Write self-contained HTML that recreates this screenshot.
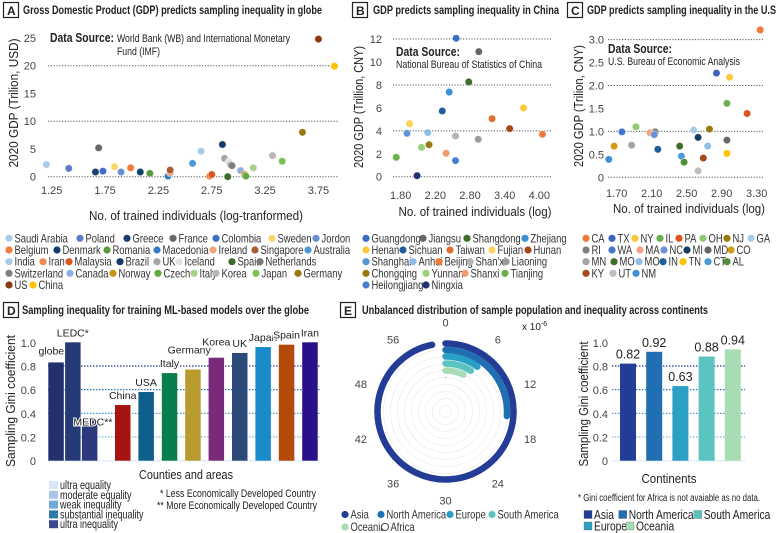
<!DOCTYPE html>
<html><head><meta charset="utf-8">
<style>
html,body{margin:0;padding:0;background:#fff;}
svg{display:block;}
text{font-family:"Liberation Sans",sans-serif;fill:#222;}
.t{font-weight:bold;font-size:12px;}
.tick{font-size:11px;fill:#444;}
.lg{font-size:11.5px;fill:#333;}
</style></head>
<body>
<svg id="fig" width="777" height="533" viewBox="0 0 777 533" xmlns="http://www.w3.org/2000/svg">
  <g>
    <rect x="3.5" y="2.5" width="15" height="15" fill="#fff" stroke="#222" stroke-width="1.2"/>
    <text x="7" y="15" class="t" font-size="13">A</text>
    <text x="23" y="14" class="t" textLength="299" lengthAdjust="spacingAndGlyphs">Gross Domestic Product (GDP) predicts sampling inequality in globe</text>
  </g>
  <g>
    <rect x="352.5" y="2.5" width="15" height="15" fill="#fff" stroke="#222" stroke-width="1.2"/>
    <text x="356" y="15" class="t" font-size="13">B</text>
    <text x="373" y="14" class="t" textLength="186" lengthAdjust="spacingAndGlyphs">GDP predicts sampling inequality in China</text>
  </g>
  <g>
    <rect x="567.5" y="2.5" width="15" height="15" fill="#fff" stroke="#222" stroke-width="1.2"/>
    <text x="571" y="15" class="t" font-size="13">C</text>
    <text x="587" y="14" class="t" textLength="189" lengthAdjust="spacingAndGlyphs">GDP predicts sampling inequality in the U.S</text>
  </g>
  <g>
    <rect x="3.5" y="302.5" width="15" height="15" fill="#fff" stroke="#222" stroke-width="1.2"/>
    <text x="7" y="315" class="t" font-size="13">D</text>
    <text x="22" y="314" class="t" textLength="287" lengthAdjust="spacingAndGlyphs">Sampling inequality for training ML-based models over the globe</text>
  </g>
  <g>
    <rect x="340.5" y="302.5" width="15" height="15" fill="#fff" stroke="#222" stroke-width="1.2"/>
    <text x="344" y="315" class="t" font-size="13">E</text>
    <text x="362" y="314" class="t" textLength="346" lengthAdjust="spacingAndGlyphs">Unbalanced distribution of sample population and inequality across continents</text>
  </g>

  <g>
    <text x="50" y="42" font-size="13" font-weight="bold" textLength="64" lengthAdjust="spacingAndGlyphs">Data Source:</text>
    <text x="117" y="42" font-size="11" fill="#444" textLength="173" lengthAdjust="spacingAndGlyphs">World Bank (WB) and International Monetary</text>
    <text x="117" y="55" font-size="11" fill="#444" textLength="43" lengthAdjust="spacingAndGlyphs">Fund (IMF)</text>
  </g>
  <g>
    <text x="396" y="56" font-size="13" font-weight="bold" textLength="64" lengthAdjust="spacingAndGlyphs">Data Source:</text>
    <text x="396" y="68" font-size="11" fill="#444" textLength="146" lengthAdjust="spacingAndGlyphs">National Bureau of Statistics of China</text>
  </g>
  <g>
    <text x="608" y="53" font-size="13" font-weight="bold" textLength="64" lengthAdjust="spacingAndGlyphs">Data Source:</text>
    <text x="608" y="65" font-size="11" fill="#444" textLength="132" lengthAdjust="spacingAndGlyphs">U.S. Bureau of Economic Analysis</text>
  </g>

  <text transform="translate(18,103) rotate(-90)" text-anchor="middle" font-size="13" textLength="129" lengthAdjust="spacingAndGlyphs">2020 GDP (Trilion, USD)</text>
  <text x="196" y="220" text-anchor="middle" font-size="13" textLength="214" lengthAdjust="spacingAndGlyphs">No. of trained individuals (log-tranformed)</text>
  <text transform="translate(363,107) rotate(-90)" text-anchor="middle" font-size="13" textLength="122" lengthAdjust="spacingAndGlyphs">2020 GDP (Trillion, CNY)</text>
  <text x="475" y="216" text-anchor="middle" font-size="13" textLength="153" lengthAdjust="spacingAndGlyphs">No. of trained individuals (log)</text>
  <text transform="translate(583,106) rotate(-90)" text-anchor="middle" font-size="13" textLength="122" lengthAdjust="spacingAndGlyphs">2020 GDP (Trilion, CNY)</text>
  <text x="689" y="213" text-anchor="middle" font-size="13" textLength="152" lengthAdjust="spacingAndGlyphs">No. of trained individuals (log)</text>
  <text transform="translate(15,401) rotate(-90)" text-anchor="middle" font-size="13" textLength="132" lengthAdjust="spacingAndGlyphs">Sampling Gini coefficient</text>
  <text x="186" y="479" text-anchor="middle" font-size="13" textLength="94" lengthAdjust="spacingAndGlyphs">Counties and areas</text>
  <text transform="translate(588,404) rotate(-90)" text-anchor="middle" font-size="13" textLength="125" lengthAdjust="spacingAndGlyphs">Sampling Gini coefficient</text>
  <text x="669" y="483" text-anchor="middle" font-size="13" textLength="55" lengthAdjust="spacingAndGlyphs">Continents</text>

  <text x="160" y="497" font-size="11" fill="#333" textLength="156" lengthAdjust="spacingAndGlyphs">* Less Economically Developed Country</text>
  <text x="157" y="509" font-size="11" fill="#333" textLength="160" lengthAdjust="spacingAndGlyphs">** More Economically Developed Country</text>
  <text x="578" y="501" font-size="10" fill="#333" textLength="182" lengthAdjust="spacingAndGlyphs">* Gini coefficient for Africa is not avaiable as no data.</text>
  <text x="522" y="330" font-size="10" fill="#333">x 10<tspan font-size="7" dy="-4">-6</tspan></text>

  <g id="layer"></g>
</svg>
<script>
// ---------- Panel A data ----------
const aCountries = ["Saudi Arabia","Poland","Greece","France","Colombia","Sweden","Jordon","Belgium","Denmark","Romania","Macedonia","Ireland","Singapore","Australia","India","Iran","Malaysia","Brazil","UK","Iceland","Spain","Netherlands","Switzerland","Canada","Norway","Czech","Italy","Korea","Japan","Germany","US","China"];
const aLogN = [1.20,1.41,1.66,1.69,1.73,1.84,1.90,1.99,2.08,2.17,2.34,2.36,2.36,2.57,2.65,2.73,2.75,2.85,2.87,2.91,2.90,2.93,2.94,3.02,3.06,3.07,3.14,3.32,3.41,3.60,3.75,3.90];
const aGDP = [2.2,1.5,0.85,5.2,1.0,1.8,0.85,1.6,0.85,0.6,0.1,0.7,1.2,2.4,4.6,0.1,0.4,5.8,3.3,2.7,0.0,2.1,2.0,1.1,0.4,0.1,1.6,3.8,2.8,8.0,24.8,19.9];
const aColors = ["#a9cce8","#5b7fc0","#1f3d6e","#686868","#3d6fc9","#fbd46a","#6a8fd0","#f07b3a","#0f3f6b","#5a9a3b","#2f7fc8","#f2a47c","#a85e35","#4c9ad8","#a8cbe8","#ee8a52","#d9541e","#173b66","#a5a5a5","#e3e3e3","#3e6e2a","#7a7a7a","#7f7f7f","#8eb0e0","#c9920d","#64a843","#a8d08d","#b7b7b7","#7cc05a","#9a7a10","#8b3a10","#ffc000"];
const aXTicks = [1.25,1.75,2.25,2.75,3.25,3.75];
const aYTicks = [0,5,10,15,20,25];
const aGrid = [0,10,20];

// ---------- Panel B data ----------
const bProvinces = ["Guangdong","Jiangsu","Shangdong","Zhejiang","Henan","Sichuan","Taiwan","Fujian","Hunan","Shanghai","Anhui","Beijing","Shan'xi","Liaoning","Chongqing","Yunnan","Shanxi","Tianjing","Heilongjiang","Ningxia"];
const bLogN = [2.68,3.04,2.88,2.57,3.75,2.46,3.25,1.94,3.53,1.90,2.23,4.05,2.67,3.03,2.25,2.13,2.52,1.73,2.67,2.06];
const bGDP = [12.07,10.9,8.26,7.38,6.0,5.73,5.06,4.62,4.19,3.78,3.84,3.70,3.55,3.26,2.79,2.56,2.04,1.69,1.40,0.09];
const bColors = ["#3b6fc6","#666666","#3e6e2a","#3d8fd6","#fbc93a","#1f5f99","#e0702d","#fcd257","#a6481a","#5b95d4","#8fbde8","#ef7a3a","#b4b4b4","#9a9a9a","#9a7a10","#9ccf7c","#f39c6b","#6ab04c","#4a7fcf","#1f3470"];
const bXTicks = [1.80,2.15,2.50,2.85,3.20];
const bXTickLabels = ["1.80","2.20","2.80","3.40","4.00"];
const bYTicks = [0,2,4,6,8,10,12];
const bGrid = [0,4,8,12];

// ---------- Panel C data ----------
const cStates = ["CA","TX","NY","IL","PA","OH","NJ","GA","RI","WA","MA","NC","MI","MD","CO","MN","MO","MO","IN","TN","CT","AL","KY","UT","NM"];
const cLogN = [3.34,2.84,2.99,2.96,3.19,1.92,2.76,2.58,2.14,1.76,2.08,2.13,2.63,2.96,1.67,1.87,2.42,2.74,2.17,2.96,2.44,2.47,2.69,2.63,1.61];
const cGDP = [3.21,2.27,2.18,1.61,1.39,1.10,1.05,1.03,0.99,0.99,0.97,0.93,0.87,0.81,0.68,0.70,0.68,0.68,0.61,0.52,0.46,0.33,0.42,0.14,0.39];
const cColors = ["#ef7a3a","#3b62c0","#fcc83a","#6ab04c","#d9541e","#8fcc70","#9a7a10","#a8cbe8","#7f7f7f","#4477cc","#f2a47c","#6d8fd6","#173b66","#666666","#d39a12","#a5a5a5","#3e6e2a","#8fbde8","#1f5f99","#ffc000","#4c9ad8","#4f8f37","#a6481a","#bdbdbd","#3d8fd6"];
const cXTicks = [1.70,2.10,2.50,2.90,3.30];
const cYTicks = [0,0.5,1.0,1.5,2.0,2.5,3.0];
const cGrid = [0,1,2,3];

// ---------- Panel D data ----------
const dAreas = ["globe","LEDC*","MEDC**","China","USA","Italy","Germany","Korea","UK","Japan","Spain","Iran"];
const dGini = [0.83,1.00,0.34,0.47,0.58,0.74,0.77,0.87,0.91,0.96,0.98,1.00];
const dColors = ["#24306e","#263a7a","#2c3a7d","#a5140f","#0e5f8b","#0a7d4f","#b99a2d","#7a2a78","#2c4a78","#1a8ac8","#b34a0a","#2a0f8a"];
const dYTicks = [0,0.2,0.4,0.6,0.8,1.0];
const dLevels = ["ultra  equality","moderate  equality","weak  inequality","substantial  inequality","ultra inequality"];
const dLevelColors = ["#d6e6f7","#a8c6ea","#6fa9d8","#2d79a8","#3b4a8e"];

// ---------- Panel E data ----------
const eContinents = ["Asia","North America","Europe","South America","Oceania","Africa"];
const eShare = [58.1,15.7,5.9,5.3,4.3,0.1];
const eGiniContinents = ["Asia","North America","Europe","South America","Oceania"];
const eGini = [0.82,0.92,0.63,0.88,0.94];
const eGiniLabels = ["0.82","0.92","0.63","0.88","0.94"];
const eColors = ["#233d96","#1f6fb2","#2aa0c4","#5cc4c0","#a8dcb4","#ffffff"];
const ePolarTicks = [0,6,12,18,24,30,36,42,48,54];
const ePolarTickLabels = ["0","6","12","18","24","30","36","42","48","56"];

const NS = "http://www.w3.org/2000/svg";
const layer = document.getElementById("layer");
function mk(tag, attrs, parent){
  const e = document.createElementNS(NS, tag);
  for (const k in attrs) e.setAttribute(k, attrs[k]);
  (parent||layer).appendChild(e);
  return e;
}
function txt(s, attrs, parent){ const e = mk("text", attrs, parent); e.textContent = s; return e; }

const axA = v => 51.7 + (v-1.25)*106.7, ayA = v => 176.7 - v*5.55;
const axB = v => 400.7 + (v-1.80)*99.0, ayB = v => 176.7 - v*11.47;
const axBpt = v => 400.7 + (v-1.80)*63.0;
const axC = v => 616.7 + (v-1.70)*87.5, ayC = v => 177.3 - v*45.9;
const ayD = v => 460.7 - v*118.4;

function scatterPanel(tag, xTicks, xLabels, yTicks, grid, fx, fy, gx0, gx1, ylabX, xlabY, yfmt){
  const g = mk("g", {});
  
  
  grid.forEach(v=>{
    const l = mk("line",{x1:gx0,x2:gx1,y1:fy(v),y2:fy(v),stroke:"#555","stroke-width":1,"stroke-dasharray":"1.2 1.6"},g);
    
    
  });
  yTicks.forEach(v=>{
    const t = txt(yfmt(v),{x:ylabX,y:fy(v)+4,"text-anchor":"end",class:"tick","font-size":"12"},g);
    
    
  });
  xTicks.forEach((v,i)=>{
    const t = txt(xLabels[i],{x:fx(v),y:xlabY,"text-anchor":"middle",class:"tick","font-size":"12"},g);
    
    
  });
  return g;
}
function points(tag, g, names, xs, ys, cols, px, py){
  names.forEach((n,i)=>{
    const c = mk("circle",{cx:px(xs[i]),cy:py(ys[i]),r:3.7,fill:cols[i],stroke:"rgba(255,255,255,0.7)","stroke-width":0.6},g);
    
    
  });
}
function legend(tag, names, cols, layout, rowY, fs){
  const g = mk("g",{});
  
  
  let k = 0;
  layout.forEach((row,r)=>{
    row.forEach(x=>{
      if (k >= names.length) return;
      const it = mk("g",{},g);
      
      
      mk("circle",{cx:x,cy:rowY[r],r:3.6,fill:cols[k],stroke:cols[k]==="#ffffff"?"#222":"none","stroke-width":0.8},it);
      txt(names[k],{transform:`translate(${x+5.5},${rowY[r]+4}) scale(0.82,1)`,class:"lg","font-size":fs||"11.5"},it);
      k++;
    });
  });
}

// Panel A
const gA = scatterPanel("a", aXTicks, aXTicks.map(v=>v.toFixed(2)), aYTicks, aGrid, axA, ayA, 48, 338, 36, 194, v=>String(v));
points("a", gA, aCountries, aLogN, aGDP, aColors, axA, ayA);
legend("a", aCountries, aColors, [
  [9,80,127,173,216,272,316],
  [9,57,107,157,213,255,308],
  [9,43,69,120,157,179,232,260],
  [9,70,113,158,194,216,256,298],
  [9,33]], [238.3,250,261.7,273.3,285]);

// Panel B
const gB = scatterPanel("b", bXTicks, bXTickLabels, bYTicks, bGrid, axB, ayB, 393, 552, 382, 199, v=>String(v));
points("b", gB, bProvinces, bLogN, bGDP, bColors, axBpt, ayB);
legend("b", bProvinces, bColors, [
  [366,423,467,525],
  [366,403,450,492,528],
  [366,413,439,470,506],
  [366,426,465,505],
  [366,426]], [238.3,250,261.7,273.3,285]);

// Panel C
const gC = scatterPanel("c", cXTicks, cXTicks.map(v=>v.toFixed(2)), cYTicks, cGrid, axC, ayC, 608, 763, 604, 197, v=>v===0?"0":v.toFixed(1));
points("c", gC, cStates, cLogN, cGDP, cColors, axC, ayC);
legend("c", cStates, cColors, [
  [586,612,635,660,679,703,727,751],
  [586,612,640,664,687,708,731],
  [586,614,639,663,683,708,727],
  [586,613,636]], [238.3,250,261.7,273.3]);

// Panel D
const gD = mk("g",{});


const dGridCols = {0.2:"#7fb6e0",0.4:"#4f95d0",0.6:"#2f78c0",0.8:"#27368a"};
[0.2,0.4,0.6,0.8].forEach(v=>{
  const l = mk("line",{x1:48,x2:320,y1:ayD(v),y2:ayD(v),stroke:dGridCols[v],"stroke-width":1.2,"stroke-dasharray":"1.5 1.5"},gD);
  
  
});
mk("line",{x1:48,x2:320,y1:ayD(0),y2:ayD(0),stroke:"#d6e6f7","stroke-width":1.5,"stroke-dasharray":"2 1"},gD);
dYTicks.forEach(v=>{
  const t = txt(v===0?"0":v.toFixed(1),{x:36,y:ayD(v)+4.5,"text-anchor":"end",class:"tick","font-size":"13"},gD);
  
  
});
const dBarX = i => i < 3 ? 48.3 + i*16.8 : 115 + (i-3)*23.4;
dAreas.forEach((a,i)=>{
  const x = dBarX(i);
  const b = mk("rect",{x:x,y:ayD(dGini[i]),width:15.5,height:ayD(0)-ayD(dGini[i]),fill:dColors[i]},gD);
  
  
  const dy = i===0 ? 8 : (i===2 ? -5 : (i===6 ? 16 : (i===7 ? 12 : 6)));
  const lx = i===0 ? x+3 : (i===2 ? x+11 : (i===6 ? x+4 : x+7.7));
  const l = txt(a,{x:lx,y:ayD(dGini[i])-dy,"text-anchor":"middle","font-size":"10.5",fill:"#222",stroke:"#fff","stroke-width":2,"paint-order":"stroke"},gD);
  
  
});
dLevels.forEach((n,i)=>{
  const it = mk("g",{},gD);
  
  
  const y = 485 + i*9.8;
  mk("rect",{x:49,y:y-4,width:9,height:8,fill:dLevelColors[i]},it);
  txt(n,{transform:`translate(60,${y+4}) scale(0.75,1)`,"font-size":"12",fill:"#333"},it);
});

// Panel E polar
const gE = mk("g",{});


const PC = {x:445.5, y:411.5};
const radii = [68,61.5,55,48,41,34];
for (let r=6; r<=72; r+=7){
  const c = mk("circle",{cx:PC.x,cy:PC.y,r:r,fill:"none",stroke:"#ececec","stroke-width":0.7},gE);
  
  
}
const ang = v => v/60*2*Math.PI;
const pt = (r,a) => [PC.x + r*Math.sin(a), PC.y - r*Math.cos(a)];
ePolarTicks.forEach((v,i)=>{
  const [x,y] = pt(89, ang(v));
  const t = txt(ePolarTickLabels[i],{x:x,y:y+4,"text-anchor":"middle",class:"tick","font-size":"12"},gE);
  
  
});
eContinents.forEach((c,i)=>{
  const r = radii[i], a = ang(eShare[i]);
  const [x0,y0] = pt(r,0), [x1,y1] = pt(r,a);
  const large = eShare[i] > 30 ? 1 : 0;
  const p = mk("path",{d:`M${x0},${y0} A${r},${r} 0 ${large} 1 ${x1},${y1}`,fill:"none",stroke:i===5?"#f4a0a0":eColors[i],"stroke-width":i===5?1.5:6.5,"stroke-linecap":"round"},gE);
  
  
});
legend("e", eContinents, eColors, [[345,381,450,492],[345,385]], [514.5,527], "11.5");

// Panel E bars
const gF = mk("g",{});


[0.2,0.4,0.6,0.8].forEach(v=>{
  const l = mk("line",{x1:612,x2:745,y1:ayD(v),y2:ayD(v),stroke:dGridCols[v],"stroke-width":1.2,"stroke-dasharray":"1.5 1.5"},gF);
  
  
});
mk("line",{x1:612,x2:745,y1:ayD(0),y2:ayD(0),stroke:"#d6e6f7","stroke-width":1.5,"stroke-dasharray":"2 1"},gF);
dYTicks.forEach(v=>{
  const t = txt(v===0?"0":v.toFixed(1),{x:608,y:ayD(v)+4.5,"text-anchor":"end",class:"tick","font-size":"13"},gF);
  
  
});
eGiniContinents.forEach((c,i)=>{
  const x = 620 + i*26.2;
  const b = mk("rect",{x:x,y:ayD(eGini[i]),width:16,height:ayD(0)-ayD(eGini[i]),fill:eColors[i]},gF);
  
  
  const l = txt(eGiniLabels[i],{x:x+8,y:ayD(eGini[i])-5,"text-anchor":"middle","font-size":"12.5",fill:"#222",stroke:"#fff","stroke-width":2,"paint-order":"stroke"},gF);
  
  
});
const eSqLayout = [[588,514.5],[622.7,514.5],[588,526],[697.7,514.5],[630,526]];
eGiniContinents.forEach((c,i)=>{
  const it = mk("g",{},gF);
  
  
  const [x,y] = eSqLayout[i];
  mk("rect",{x:x-4,y:y-4,width:8,height:8,fill:eColors[i],stroke:"#555","stroke-width":0.3},it);
  txt(c,{transform:`translate(${x+6},${y+4.5}) scale(0.82,1)`,"font-size":"12.5",fill:"#333"},it);
});
</script>
</body></html>
